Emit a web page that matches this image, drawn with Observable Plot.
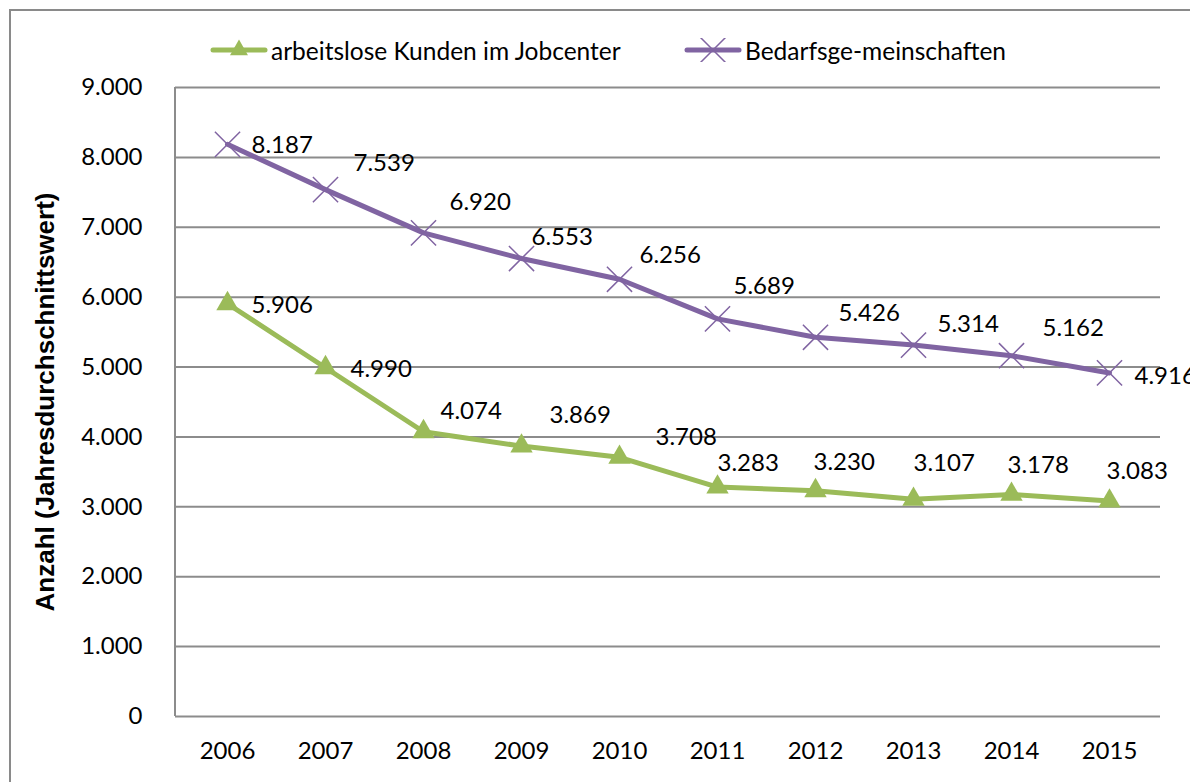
<!DOCTYPE html>
<html>
<head>
<meta charset="utf-8">
<script src="https://cdn.jsdelivr.net/npm/d3@7"></script>
<script src="https://cdn.jsdelivr.net/npm/@observablehq/plot@0.6"></script>
<style>
  html, body { margin: 0; padding: 0; background: #fff; overflow: hidden; width: 1190px; height: 782px; }
  #frame { position: absolute; left: 9px; top: 9px; width: 1400px; height: 1000px; border: 2px solid #8a8a8a; box-sizing: border-box; pointer-events: none; }
  #legend { position: relative; height: 60px; font-family: Lato, "Open Sans", sans-serif; font-size: 24.5px; color: #000; }
  .item { position: absolute; top: 36px; height: 28px; display: flex; align-items: center; white-space: nowrap; }
  .item svg { display: block; margin-right: 3px; }
  #chart { position: relative; }
</style>
</head>
<body>
<div id="frame"></div>
<div id="legend"></div>
<div id="chart"></div>
<script>
// ---- data ----
const years = ["2006","2007","2008","2009","2010","2011","2012","2013","2014","2015"];
const arbeitslose = [5906, 4990, 4074, 3869, 3708, 3283, 3230, 3107, 3178, 3083];
const bedarfsgemeinschaften = [8187, 7539, 6920, 6553, 6256, 5689, 5426, 5314, 5162, 4916];
const seriesNames = ["arbeitslose Kunden im Jobcenter", "Bedarfsge-meinschaften"];
const yTicks = [0, 1000, 2000, 3000, 4000, 5000, 6000, 7000, 8000, 9000];
const yTitle = "Anzahl (Jahresdurchschnittswert)";

// ---- layout (label nudges in px, as placed in the original) ----
const nudgeGreen = [[24,2],[25,2],[17,-20],[28,-31],[36,-20],[0,-24],[-2,-28],[0,-36],[-4,-29],[-3,-30]];
const nudgePurple = [[24,1],[28,-26],[26,-31],[10,-21],[20,-24],[16,-33],[23,-24],[24,-21],[31,-27],[25,3]];

const green = "#9BBB59", purple = "#8064A2", gridColor = "#8c8c8c";
const fontSize = 24;
const de = d3.formatLocale({decimal: ",", thousands: ".", grouping: [3], currency: ["", "€"]});
const fmt = de.format(",d");

const dataG = years.map((y, i) => ({year: y, value: arbeitslose[i], dx: nudgeGreen[i][0], dy: nudgeGreen[i][1]}));
const dataP = years.map((y, i) => ({year: y, value: bedarfsgemeinschaften[i], dx: nudgePurple[i][0], dy: nudgePurple[i][1]}));

// ---- legend ----
function swatch(color, symbolType, size, filled) {
  const svg = d3.create("svg").attr("width", 58).attr("height", 24);
  svg.append("line").attr("x1", 3).attr("x2", 55).attr("y1", 12).attr("y2", 12)
    .attr("stroke", color).attr("stroke-width", 5).attr("stroke-linecap", "round");
  svg.append("path").attr("transform", "translate(29,12)")
    .attr("d", d3.symbol(symbolType, size)())
    .attr("fill", filled ? color : "none").attr("stroke", filled ? "none" : color).attr("stroke-width", filled ? 0 : 1.5);
  return svg.node();
}
const legend = document.getElementById("legend");
[[seriesNames[0], green, d3.symbolTriangle, 140, true, 210], [seriesNames[1], purple, d3.symbolTimes, 415, false, 684]]
  .forEach(([name, color, sym, size, filled, left]) => {
    const div = document.createElement("div");
    div.className = "item";
    div.style.left = left + "px";
    div.appendChild(swatch(color, sym, size, filled));
    const span = document.createElement("span");
    span.textContent = name;
    div.appendChild(span);
    legend.appendChild(div);
  });

// ---- chart ----
const labelMarks = [];
for (const data of [dataG, dataP]) {
  for (const d of data) {
    labelMarks.push(Plot.text([d], {x: "year", y: "value", text: v => fmt(v.value), dx: d.dx, dy: d.dy,
      textAnchor: "start", fill: "#000", fontSize}));
  }
}

const leftAxisLine = (index, scales, values, dims) => {
  const g = d3.create("svg:g");
  g.append("line")
    .attr("x1", dims.marginLeft).attr("x2", dims.marginLeft)
    .attr("y1", dims.marginTop).attr("y2", dims.height - dims.marginBottom)
    .attr("stroke", gridColor).attr("stroke-width", 2);
  return g.node();
};

const chart = Plot.plot({
  width: 1190,
  height: 722,
  marginLeft: 175,
  marginRight: 30,
  marginTop: 27,
  marginBottom: 66,
  style: {fontFamily: "Lato, 'Open Sans', sans-serif", fontSize: fontSize + "px", color: "#000", background: "transparent", overflow: "visible"},
  x: {type: "point", domain: years, padding: 0.5, label: null},
  y: {domain: [0, 9000], label: null},
  marks: [
    Plot.gridY(yTicks, {stroke: gridColor, strokeWidth: 2, strokeOpacity: 1}),
    leftAxisLine,
    Plot.axisY({ticks: yTicks, tickSize: 0, tickPadding: 33, tickFormat: fmt, label: null, fontSize}),
    Plot.axisX({tickSize: 0, tickPadding: 25, label: null, fontSize}),
    Plot.text([yTitle], {text: d => d, frameAnchor: "left", dx: -130, rotate: -90, textAnchor: "middle",
      fontFamily: "'Liberation Sans', Arial, sans-serif", fontWeight: "bold", fontSize: 26, fill: "#000"}),
    Plot.line(dataG, {x: "year", y: "value", stroke: green, strokeWidth: 5, strokeLinejoin: "round", strokeLinecap: "round"}),
    Plot.dot(dataG, {x: "year", y: "value", symbol: "triangle", r: 8.3, fill: green, stroke: "none"}),
    Plot.line(dataP, {x: "year", y: "value", stroke: purple, strokeWidth: 5, strokeLinejoin: "round", strokeLinecap: "round"}),
    Plot.dot(dataP, {x: "year", y: "value", symbol: "times", r: 11.5, stroke: purple, strokeWidth: 1.5}),
    ...labelMarks
  ]
});
document.getElementById("chart").appendChild(chart);
</script>
</body>
</html>
